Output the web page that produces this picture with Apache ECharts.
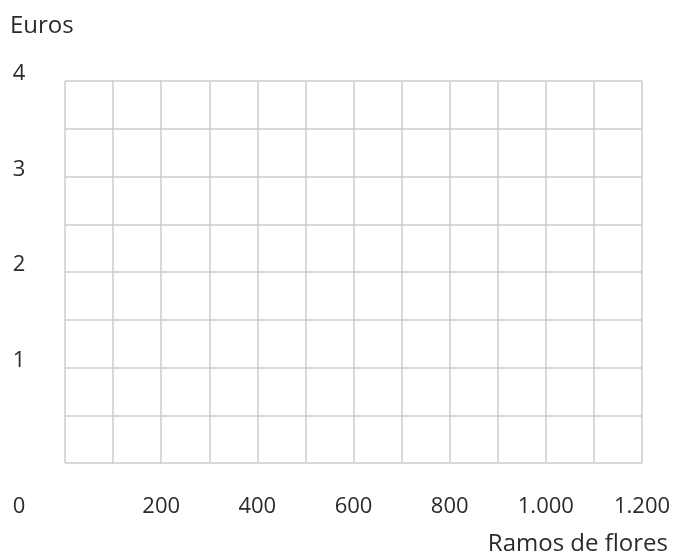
<!DOCTYPE html>
<html>
<head>
<meta charset="utf-8">
<script src="https://cdn.jsdelivr.net/npm/echarts@6/dist/echarts.min.js"></script>
<style>html,body{margin:0;padding:0;background:#fff}#c{width:674px;height:554px}</style>
</head>
<body>
<div id="c"></div>
<script>
// Axis settings (the reference shows an empty grid: no data series)
const xMin = 0, xMax = 1200, xStep = 100;
const xLabelValues = [0, 200, 400, 600, 800, 1000, 1200];
const yMin = 0, yMax = 4, yStep = 0.5;
const yLabelValues = [1, 2, 3, 4];
const xName = 'Ramos de flores';
const yName = 'Euros';

const FONT = '"Open Sans", Lato, sans-serif';
const TXT = '#2b2b2b';
const GRID = '#cccccc';

function fmtThousands(v) {
  return String(v).replace(/\B(?=(\d{3})+(?!\d))/g, '.');
}

const chart = echarts.init(document.getElementById('c'), null, {renderer: 'canvas'});
chart.setOption({
  animation: false,
  title: [
    {text: yName, left: 10, top: 14, padding: 0,
     textStyle: {fontFamily: FONT, fontSize: 24, fontWeight: 'normal', color: TXT}},
    {text: xName, right: 6, top: 532, padding: 0,
     textStyle: {fontFamily: FONT, fontSize: 24, fontWeight: 'normal', color: TXT}}
  ],
  grid: {left: 65, top: 81, right: 32, bottom: 91},
  xAxis: {
    type: 'value', min: xMin, max: xMax, interval: xStep,
    axisLine: {show: false}, axisTick: {show: false},
    axisLabel: {
      margin: 33, fontFamily: FONT, fontSize: 22, color: TXT,
      formatter: v => xLabelValues.includes(v) ? (v === 0 ? '{z|0}' : fmtThousands(v)) : '',
      rich: {z: {fontFamily: FONT, fontSize: 22, color: TXT, padding: [0, 92, 0, 0]}}
    },
    splitLine: {show: true, lineStyle: {color: GRID, width: 1.5}}
  },
  yAxis: {
    type: 'value', min: yMin, max: yMax, interval: yStep,
    axisLine: {show: false}, axisTick: {show: false},
    axisLabel: {
      margin: 46, align: 'center', verticalAlign: 'middle',
      fontFamily: FONT, fontSize: 22, color: TXT,
      formatter: v => yLabelValues.includes(v) ? '{a|' + v + '}' : '',
      rich: {a: {fontFamily: FONT, fontSize: 22, color: TXT, padding: [0, 0, 14, 0]}}
    },
    splitLine: {show: true, lineStyle: {color: GRID, width: 1.5}}
  },
  series: []
});
</script>
</body>
</html>
